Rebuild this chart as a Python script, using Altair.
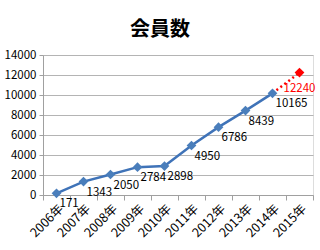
import altair as alt
import pandas as pd

years = ["2006年", "2007年", "2008年", "2009年", "2010年", "2011年", "2012年", "2013年", "2014年", "2015年"]
actual = [171, 1343, 2050, 2784, 2898, 4950, 6786, 8439, 10165]
forecast_year = "2015年"
forecast_value = 12240

FONT = "Noto Sans CJK JP"

act_df = pd.DataFrame({"year": years[:len(actual)], "value": actual})
fc_df = pd.DataFrame({"year": [years[len(actual) - 1], forecast_year],
                      "value": [actual[-1], forecast_value]})
fc_pt = fc_df.iloc[[1]]

x = alt.X("year:N", sort=years, scale=alt.Scale(domain=years, paddingInner=0, paddingOuter=0),
          axis=alt.Axis(title=None, labelAngle=-45, labelFont=FONT, labelFontSize=12.5,
                        labelColor="#000000", domainColor="#a0a0a0", tickColor="#a0a0a0",
                        tickBand="extent", tickSize=5, labelPadding=2, grid=False))
y = alt.Y("value:Q", scale=alt.Scale(domain=[0, 14000]),
          axis=alt.Axis(title=None, values=list(range(0, 14001, 2000)), format="d", labelFont=FONT,
                        labelFontSize=11.5, labelColor="#000000", domainColor="#a0a0a0",
                        tickColor="#a0a0a0", tickSize=4, gridColor="#b4b4b4", labelPadding=3))

base_act = alt.Chart(act_df)
line = base_act.mark_line(color="#3f73b8", strokeWidth=2.5).encode(x=x, y=y)
pts = base_act.mark_point(shape="diamond", filled=True, size=95, color="#4a7ebb", opacity=1).encode(x=x, y=y)
lbl = base_act.mark_text(align="left", baseline="middle", dx=3, dy=11, font=FONT, fontSize=11.5,
                         color="#000000").encode(x=x, y=y, text="value:Q")

fc_line = alt.Chart(fc_df).mark_line(color="#ff0000", strokeWidth=2.5, strokeDash=[2, 3]).encode(x=x, y=y)
fc_p = alt.Chart(fc_pt).mark_point(shape="diamond", filled=True, size=95, color="#ff0000", opacity=1).encode(x=x, y=y)
fc_l = alt.Chart(fc_pt).mark_text(align="center", baseline="middle", dy=16, font=FONT, fontSize=11.5,
                                  color="#ff0000").encode(x=x, y=y, text="value:Q")

chart = alt.layer(line, fc_line, pts, fc_p, lbl, fc_l).properties(
    width=270, height=140,
    title=alt.TitleParams("会員数", font=FONT, fontSize=20, fontWeight="bold", color="#000000",
                          anchor="middle", dx=-18, offset=9),
    autosize=alt.AutoSizeParams(type="none"),
    padding={"left": 43, "top": 55, "right": 7, "bottom": 55},
).configure_view(stroke=None).configure(background="white")

chart.save("out.html", embed_options={"renderer": "svg", "actions": False})
